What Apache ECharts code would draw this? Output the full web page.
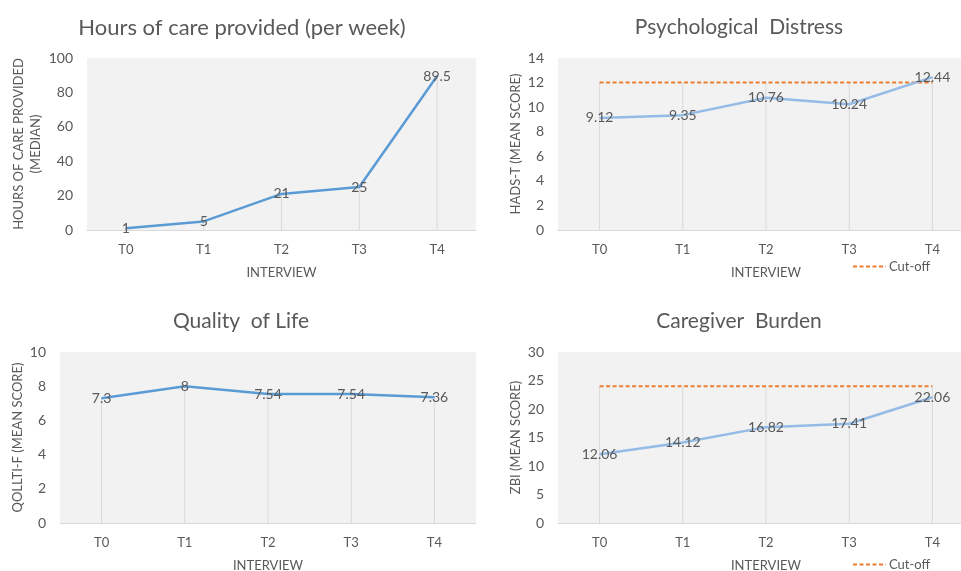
<!DOCTYPE html>
<html>
<head>
<meta charset="utf-8">
<script src="https://cdn.jsdelivr.net/npm/echarts@6/dist/echarts.min.js"></script>
<style>html,body{margin:0;padding:0;background:#fff}#c{width:961px;height:571px}</style>
</head>
<body>
<div id="c"></div>
<script>
var categories = ['T0', 'T1', 'T2', 'T3', 'T4'];
var hoursOfCare = [1, 5, 21, 25, 89.5];
var hadsT = [9.12, 9.35, 10.76, 10.24, 12.44];
var hadsCutoff = [12, 12, 12, 12, 12];
var qollti = [7.3, 8, 7.54, 7.54, 7.36];
var zbi = [12.06, 14.12, 16.82, 17.41, 22.06];
var zbiCutoff = [24, 24, 24, 24, 24];

var FONT = 'Lato';
var GREY = '#595959';

function maxOf(a, b) { return a.map(function (v, i) { return b ? Math.max(v, b[i]) : v; }); }

var grids = [
  {left: 87, width: 389, top: 58, height: 172},
  {left: 558, width: 416, top: 58, height: 172},
  {left: 60, width: 416, top: 352, height: 171},
  {left: 558, width: 416, top: 352, height: 171}
].map(function (g) {
  return Object.assign({show: true, backgroundColor: '#F2F2F2', borderWidth: 0,
    containLabel: false, outerBoundsMode: 'none'}, g);
});

function xAxis(i) {
  return {
    type: 'category', gridIndex: i, data: categories,
    axisTick: {show: false},
    axisLine: {lineStyle: {color: '#D9D9D9', width: 1}},
    axisLabel: {color: GREY, fontFamily: FONT, fontSize: 13, margin: 13},
    name: 'INTERVIEW', nameLocation: 'middle', nameGap: 36,
    nameTextStyle: {color: GREY, fontFamily: FONT, fontSize: 13},
    splitLine: {show: false}
  };
}
function yAxis(i, max, interval, name, gap) {
  return {
    type: 'value', gridIndex: i, min: 0, max: max, interval: interval,
    axisLine: {show: false}, axisTick: {show: false},
    splitLine: {show: false},
    axisLabel: {color: GREY, fontFamily: FONT, fontSize: 14, margin: 14},
    name: name, nameLocation: 'middle', nameRotate: 90, nameGap: gap,
    nameTextStyle: {color: GREY, fontFamily: FONT, fontSize: 13, lineHeight: 17, align: 'center'}
  };
}
function drop(i, vals) {
  return {
    type: 'bar', xAxisIndex: i, yAxisIndex: i, data: vals, barWidth: 1,
    itemStyle: {color: '#D9D9D9'}, silent: true, z: 1, legendHoverLink: false
  };
}
function line(i, vals, color) {
  return {
    type: 'line', xAxisIndex: i, yAxisIndex: i, data: vals,
    symbol: 'circle', symbolSize: 1, showSymbol: true,
    itemStyle: {color: color},
    lineStyle: {color: color, width: 2.5},
    label: {show: true, position: 'inside', color: '#595959', fontFamily: FONT, fontSize: 14},
    z: 3, silent: true
  };
}
function cut(i, vals) {
  return {
    type: 'line', name: 'Cut-off', xAxisIndex: i, yAxisIndex: i, data: vals,
    symbol: 'none',
    itemStyle: {color: '#ED7D31'},
    lineStyle: {color: '#ED7D31', width: 2, type: [4, 2.5]},
    z: 2, silent: true
  };
}
function title(text, x, y, size) {
  return {text: text, left: x, top: y, textAlign: 'center', padding: 0,
    textStyle: {color: GREY, fontFamily: FONT, fontSize: size, fontWeight: 'normal'}};
}
var DASH_ICON = 'path://M0,0h4v2h-4z M6.5,0h4v2h-4z M13,0h4v2h-4z M19.5,0h4v2h-4z M26,0h4v2h-4z M32.5,0h0.5v2h-0.5z';
function legend(top) {
  return {data: [{name: 'Cut-off', icon: DASH_ICON}], left: 853, top: top, padding: 0,
    itemWidth: 33, itemHeight: 2, itemGap: 4, selectedMode: false,
    textStyle: {color: GREY, fontFamily: FONT, fontSize: 13, padding: [0, 0, 0, -2]}};
}

var option = {
  animation: false,
  title: [
    title('Hours of care provided (per week)', 242, 17, 22),
    title('Psychological  Distress', 739, 17, 21),
    title('Quality  of Life', 241, 311, 21),
    title('Caregiver  Burden', 739, 311, 21)
  ],
  legend: [legend(260), legend(558)],
  grid: grids,
  xAxis: [xAxis(0), xAxis(1), xAxis(2), xAxis(3)],
  yAxis: [
    yAxis(0, 100, 20, 'HOURS OF CARE PROVIDED\n(MEDIAN)', 42),
    yAxis(1, 14, 2, 'HADS-T (MEAN SCORE)', 33),
    yAxis(2, 10, 2, 'QOLLTI-F (MEAN SCORE)', 32),
    yAxis(3, 30, 5, 'ZBI (MEAN SCORE)', 33)
  ],
  series: [
    drop(0, maxOf(hoursOfCare)),
    line(0, hoursOfCare, '#5B9BD5'),
    drop(1, maxOf(hadsT, hadsCutoff)),
    cut(1, hadsCutoff),
    line(1, hadsT, '#94BCE6'),
    drop(2, maxOf(qollti)),
    line(2, qollti, '#5B9BD5'),
    drop(3, maxOf(zbi, zbiCutoff)),
    cut(3, zbiCutoff),
    line(3, zbi, '#94BCE6')
  ]
};
var chart = echarts.init(document.getElementById('c'), null, {renderer: 'canvas'});
chart.setOption(option);
</script>
</body>
</html>
